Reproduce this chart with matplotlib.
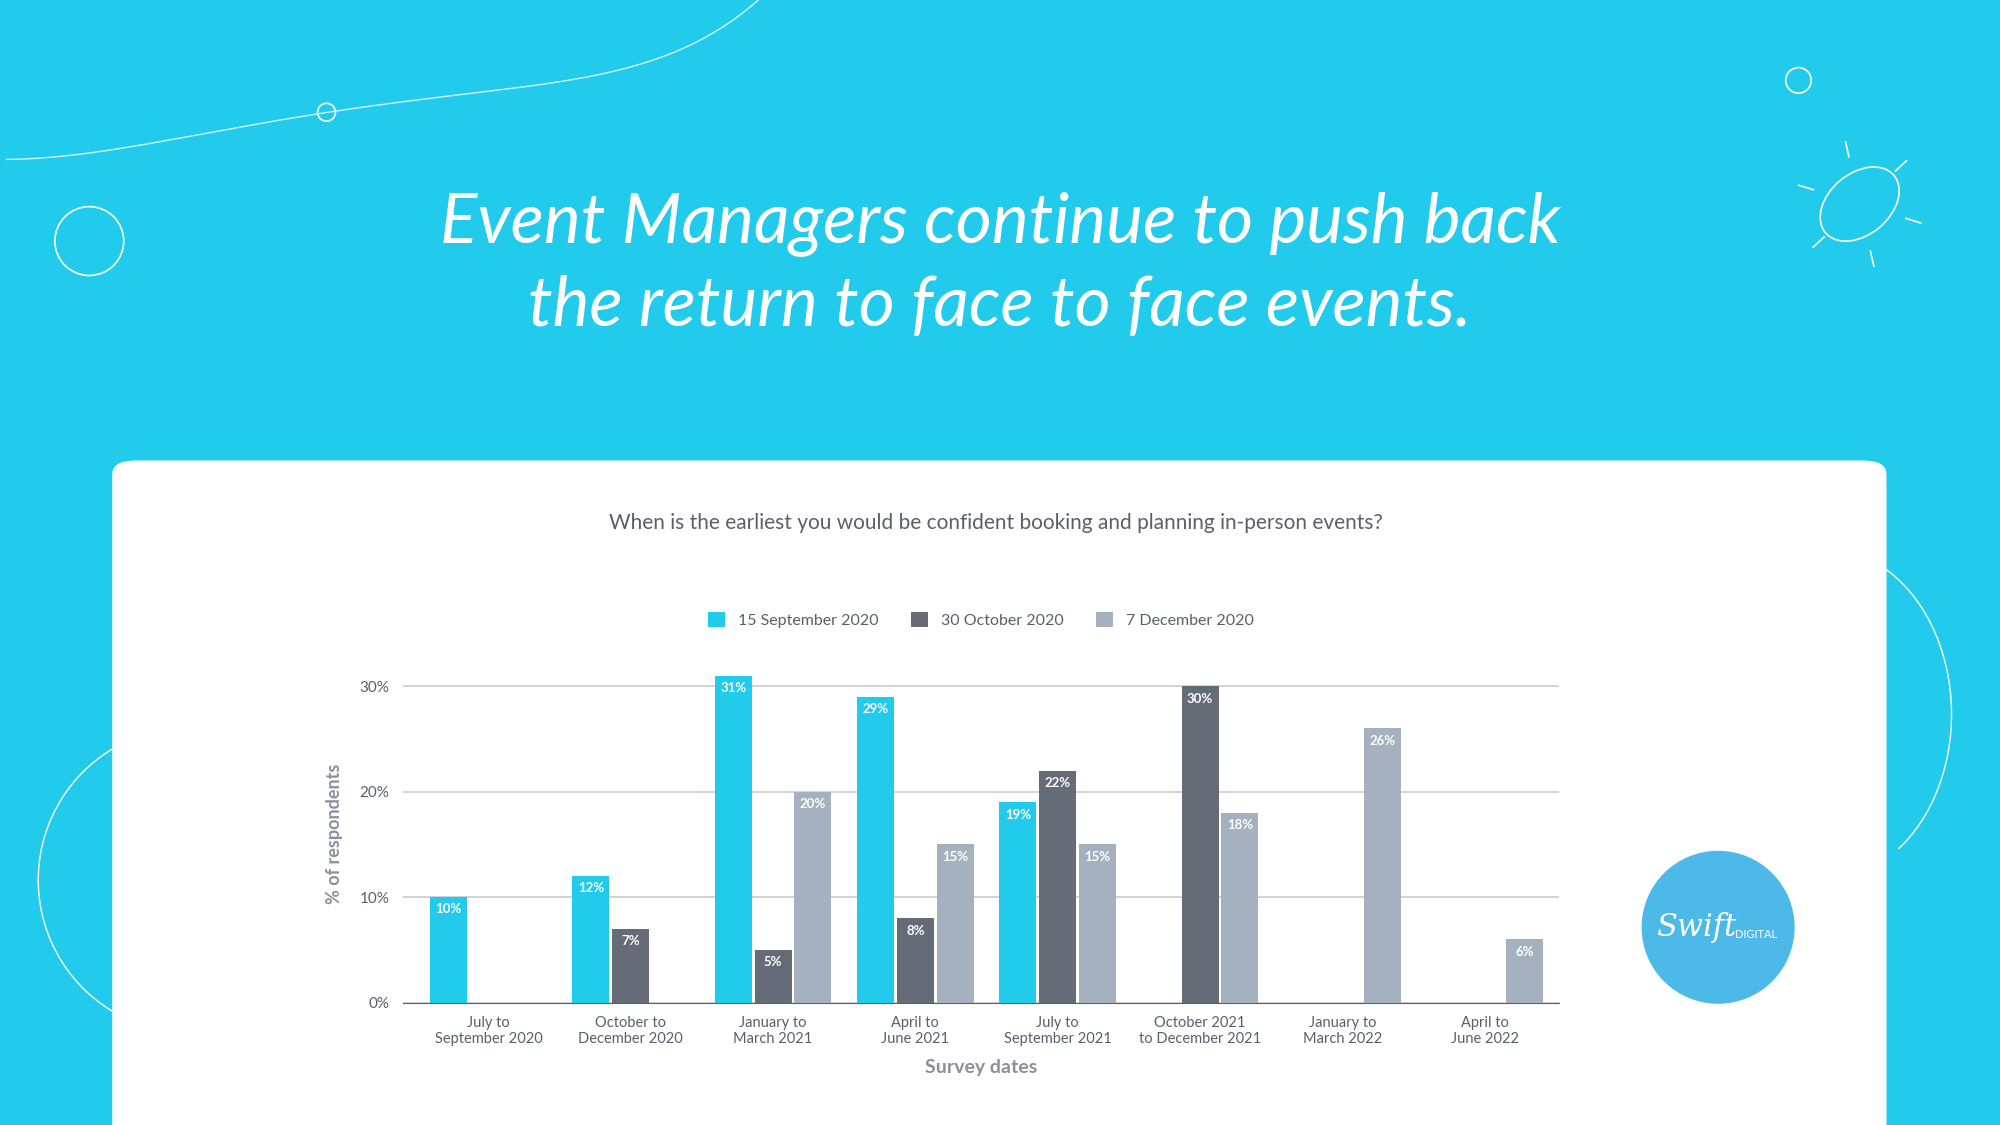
import matplotlib
matplotlib.use("Agg")
import matplotlib.pyplot as plt
from matplotlib.patches import FancyBboxPatch, Circle, Ellipse
import numpy as np

categories = ["July to\nSeptember 2020", "October to\nDecember 2020", "January to\nMarch 2021",
              "April to\nJune 2021", "July to\nSeptember 2021", "October 2021\nto December 2021",
              "January to\nMarch 2022", "April to\nJune 2022"]
series_names = ["15 September 2020", "30 October 2020", "7 December 2020"]
sep2020 = [10, 12, 31, 29, 19, None, None, None]
oct2020 = [None, 7, 5, 8, 22, 30, None, None]
dec2020 = [None, None, 20, 15, 15, 18, 26, 6]
yticks = [0, 10, 20, 30]

BG = "#22CBEB"
colors = ["#22CBEB", "#656B77", "#A5B1BE"]
W, H = 1568, 882

fig = plt.figure(figsize=(20, 11.25), dpi=100)
fig.patch.set_facecolor(BG)
plt.rcParams["font.family"] = "Lato"

def fx(x): return x / W
def fy(y): return 1 - y / H

deco = fig.add_axes([0, 0, 1, 1]); deco.set_xlim(0, W); deco.set_ylim(H, 0); deco.axis("off")
deco.set_zorder(0)
t = np.linspace(0, 1, 300)
cx_ = 5 + 595 * t
cy_ = 125 - 5 * t - 80 * np.sin(np.pi * t * 0.9) ** 2 * (1 - t) - 125 * t ** 6 + 30 * np.sin(2 * np.pi * t) * t
deco.plot(cx_, cy_, color="white", lw=1, alpha=0.8)
for (cx, cy, r) in [(70, 189, 27), (256, 88, 7), (1410, 63, 10)]:
    deco.add_patch(Circle((cx, cy), r, fill=False, ec="white", lw=1.2))
deco.add_patch(Ellipse((1458, 160), 70, 48, angle=-40, fill=False, ec="white", lw=1.2))
for a in np.linspace(0, 2 * np.pi, 7)[:-1] + 0.3:
    deco.plot([1458 + 38 * np.cos(a), 1458 + 50 * np.cos(a)], [160 + 38 * np.sin(a), 160 + 50 * np.sin(a)], color="white", lw=1.2)
a = np.linspace(np.pi * 0.62, np.pi * 1.38, 100)
deco.plot(150 + 120 * np.cos(a), 690 + 120 * np.sin(a), color="white", lw=1)
a = np.linspace(-np.pi * 0.45, np.pi * 0.3, 100)
deco.plot(1430 + 100 * np.cos(a), 560 + 130 * np.sin(a), color="white", lw=1)

fig.text(0.5, fy(175), "Event Managers continue to push back", ha="center", va="center",
         color="white", fontsize=50, style="italic", fontweight="normal")
fig.text(0.5, fy(240), "the return to face to face events.", ha="center", va="center",
         color="white", fontsize=50, style="italic", fontweight="normal")

panel = FancyBboxPatch((fx(88), -0.05), fx(1479 - 88), fy(361) + 0.05, boxstyle="round,pad=0,rounding_size=0.012",
                       transform=fig.transFigure, fc="white", ec="none", zorder=1)
fig.patches.append(panel)

fig.text(fx(781), fy(410), "When is the earliest you would be confident booking and planning in-person events?",
         ha="center", va="center", color="#59606B", fontsize=15)

fig.patches.append(Ellipse((fx(1347), fy(727)), 120 / W, 120 / H, transform=fig.transFigure, fc="#4DB9E9", ec="none", zorder=2))
fig.text(fx(1330), fy(727), "Swift", color="white", fontsize=22, style="italic", ha="center", va="center", family="DejaVu Serif", zorder=3)
fig.text(fx(1377), fy(733), "DIGITAL", color="white", fontsize=8, ha="center", va="center", zorder=3)

ax = fig.add_axes([fx(316), fy(786), fx(1222 - 316), fy(538) - fy(786) + (fy(538) - fy(786)) * 2 / 30])
ax.set_zorder(3)
ax.set_facecolor("none")
ax.set_ylim(0, 32)
ax.set_xlim(-0.6, 7.52)
x = np.arange(len(categories))
bw = 0.26
off = 0.28
for i, (vals, c) in enumerate(zip([sep2020, oct2020, dec2020], colors)):
    xi = [x[j] + (i - 1) * off for j, v in enumerate(vals) if v is not None]
    vi = [v for v in vals if v is not None]
    ax.bar(xi, vi, width=bw, color=c, label=series_names[i], zorder=3)
    for a_, b in zip(xi, vi):
        ax.text(a_, b - 0.6, f"{b}%", ha="center", va="top", color="white", fontsize=9.5, fontweight="bold", zorder=4)
ax.set_yticks(yticks)
ax.set_yticklabels([f"{v}%" for v in yticks], color="#59606B", fontsize=11)
ax.grid(axis="y", color="#C8CDD3", lw=1.2, zorder=0)
ax.set_xticks(x)
ax.set_xticklabels(categories, color="#59606B", fontsize=10.5, linespacing=1.1)
for s in ["top", "right", "left"]:
    ax.spines[s].set_visible(False)
ax.spines["bottom"].set_color("#59606B")
ax.tick_params(length=0, pad=10)
ax.set_ylabel("% of respondents", color="#8A919B", fontsize=13, fontweight="bold", labelpad=12)
ax.set_xlabel("Survey dates", color="#8A919B", fontsize=14, fontweight="bold", labelpad=10)
ax.legend(loc="center", bbox_to_anchor=(0.5, 1.135), ncol=3, frameon=False, fontsize=11.5,
          labelcolor="#59606B", handlelength=1.1, handleheight=1.1, columnspacing=2)

fig.savefig("out.png", dpi=100, facecolor=BG)
